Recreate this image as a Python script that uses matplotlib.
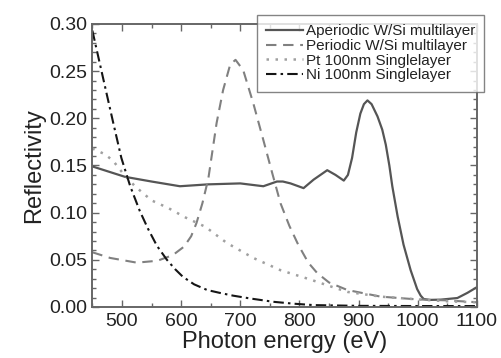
import numpy as np
import matplotlib
matplotlib.use('Agg')
from matplotlib import pyplot as plt
from matplotlib.ticker import MultipleLocator, FormatStrFormatter

plt.rcParams['font.family'] = ['Liberation Sans', 'DejaVu Sans']

# Aperiodic W/Si multilayer
ape_e = [450, 475, 505, 550, 598, 646, 700, 739, 762, 772, 785, 807, 824, 847, 861, 875,
         882, 889, 896, 903, 909, 915, 922, 932, 940, 946, 952, 957, 966, 976, 988, 999,
         1005, 1010, 1020, 1039, 1067, 1084, 1100]
ape_r = [0.149, 0.144, 0.138, 0.133, 0.128, 0.130, 0.131, 0.128, 0.133, 0.133, 0.131, 0.126,
         0.135, 0.145, 0.140, 0.134, 0.140, 0.158, 0.185, 0.205, 0.215, 0.219, 0.215, 0.202,
         0.188, 0.172, 0.150, 0.128, 0.096, 0.066, 0.039, 0.019, 0.012, 0.0085, 0.0075,
         0.0078, 0.0095, 0.015, 0.021]

# Periodic W/Si multilayer
per_e = [450, 480, 525, 560, 586, 605, 617, 626, 636, 646, 660, 671, 683, 692, 705, 722,
         739, 754, 768, 783, 798, 815, 830, 850, 881, 937, 1000, 1050, 1100]
per_r = [0.058, 0.052, 0.047, 0.049, 0.055, 0.064, 0.075, 0.089, 0.110, 0.136, 0.195, 0.230,
         0.257, 0.262, 0.251, 0.216, 0.177, 0.142, 0.110, 0.086, 0.066, 0.047, 0.036, 0.026,
         0.018, 0.011, 0.008, 0.007, 0.005]

# Pt 100nm single layer
pt_e = [450, 471, 485, 500, 522, 550, 578, 607, 641, 677, 722, 768, 819, 847, 881, 937,
        1000, 1050, 1100]
pt_r = [0.168, 0.162, 0.155, 0.143, 0.128, 0.113, 0.105, 0.095, 0.085, 0.068, 0.052, 0.039,
        0.029, 0.023, 0.016, 0.011, 0.008, 0.006, 0.005]

# Ni 100nm single layer
ni_e = [450, 468, 485, 499, 514, 530, 544, 559, 576, 590, 603, 622, 644, 665, 688, 717,
        756, 790, 824, 900, 1000, 1100]
ni_r = [0.293, 0.243, 0.196, 0.158, 0.128, 0.102, 0.083, 0.065, 0.050, 0.040, 0.032, 0.024,
        0.018, 0.015, 0.012, 0.009, 0.0055, 0.0035, 0.002, 0.0012, 0.001, 0.001]

fig = plt.figure(figsize=(5.02, 3.58), dpi=100)
ax = fig.add_axes([0.184, 0.1425, 0.766, 0.7905])

ax.plot(ape_e, ape_r, color='#555555', lw=1.6, label='Aperiodic W/Si multilayer')
ax.plot(per_e, per_r, color='#808080', lw=1.5, ls=(0, (5, 3.2)),
        label='Periodic W/Si multilayer')
ax.plot(pt_e, pt_r, color='#a0a0a0', lw=1.8, ls=(0, (1, 2.6)),
        label='Pt 100nm Singlelayer')
ax.plot(ni_e, ni_r, color='#151515', lw=1.5, ls=(0, (5, 2, 1.2, 2)),
        label='Ni 100nm Singlelayer')

ax.set_xlim(450, 1100)
ax.set_ylim(0, 0.30)
ax.xaxis.set_major_locator(MultipleLocator(100))
ax.xaxis.set_minor_locator(MultipleLocator(50))
ax.yaxis.set_major_locator(MultipleLocator(0.05))
ax.yaxis.set_minor_locator(MultipleLocator(0.01))
ax.yaxis.set_major_formatter(FormatStrFormatter('%.2f'))

for s in ax.spines.values():
    s.set_color('#666666')
    s.set_linewidth(1.4)
ax.tick_params(which='both', direction='in', top=True, right=True, colors='#666666',
               labelcolor='#222222', labelsize=14, width=1.0)
ax.tick_params(which='major', length=5, pad=4)
ax.tick_params(which='minor', length=3)

ax.set_xlabel('Photon energy (eV)', fontsize=17, color='#222222', labelpad=1)
ax.set_ylabel('Reflectivity', fontsize=17, color='#222222', labelpad=3)

leg = ax.legend(loc='upper left', bbox_to_anchor=(257 / 502, 1 - 15 / 358),
                bbox_transform=fig.transFigure, fontsize=11, frameon=True,
                fancybox=False, edgecolor='#666666', handlelength=2.4,
                handletextpad=0.2, labelspacing=0.05, borderpad=0.6,
                borderaxespad=0)
leg.get_frame().set_linewidth(1.0)
for t in leg.get_texts():
    t.set_color('#222222')

fig.savefig('out.png', dpi=100)
